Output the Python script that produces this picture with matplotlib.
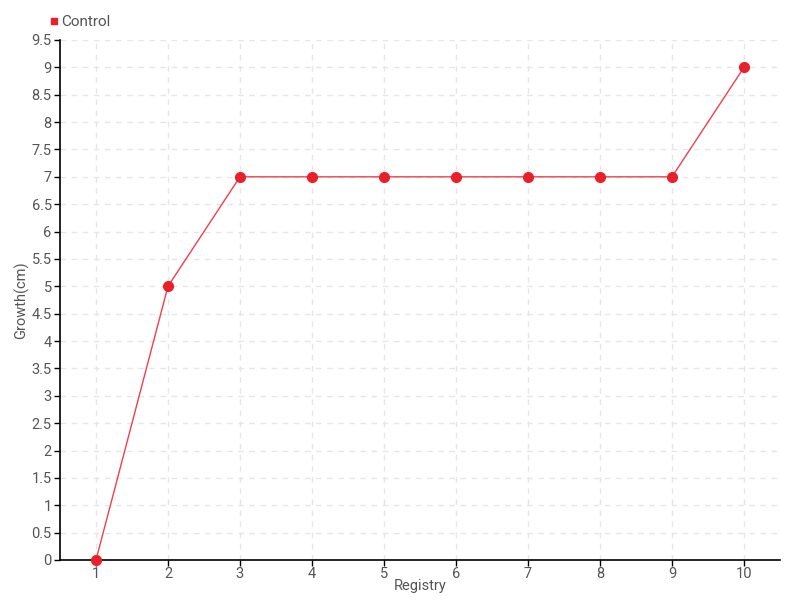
import matplotlib
matplotlib.use("Agg")
import matplotlib.pyplot as plt
from matplotlib.lines import Line2D

registry = [1, 2, 3, 4, 5, 6, 7, 8, 9, 10]
control = [0, 5, 7, 7, 7, 7, 7, 7, 7, 9]
yticks = [0, 0.5, 1, 1.5, 2, 2.5, 3, 3.5, 4, 4.5, 5, 5.5, 6, 6.5, 7, 7.5, 8, 8.5, 9, 9.5]
ytick_labels = ["0", "0.5", "1", "1.5", "2", "2.5", "3", "3.5", "4", "4.5", "5", "5.5",
                "6", "6.5", "7", "7.5", "8", "8.5", "9", "9.5"]

plt.rcParams['font.family'] = ['Roboto', 'DejaVu Sans']
fig = plt.figure(figsize=(8, 6), dpi=100)
ax = fig.add_axes([0.075, 0.0667, 0.9, 0.8667])

red = '#e8202a'
ax.plot(registry, control, color='#f0404a', lw=1, zorder=3)
ax.plot(registry, control, 'o', color=red, ms=7, zorder=4, clip_on=False)

ax.set_xlim(0.5, 10.5)
ax.set_ylim(0, 9.5)
ax.set_xticks(registry)
ax.set_xticklabels([str(r) for r in registry])
ax.set_yticks(yticks)
ax.set_yticklabels(ytick_labels)
ax.tick_params(axis='both', colors='#000000', labelcolor='#555555', labelsize=10.5,
               length=4, width=1, direction='out', pad=2)
ax.tick_params(axis='x', pad=1)
ax.grid(True, color='#e6e6e6', linestyle=(0, (4, 4)), lw=1)
ax.set_axisbelow(True)
for s in ['top', 'right']:
    ax.spines[s].set_visible(False)
for s in ['left', 'bottom']:
    ax.spines[s].set_color('#000000')
    ax.spines[s].set_linewidth(1.2)

ax.set_xlabel('Registry', color='#555555', fontsize=10.5)
ax.set_ylabel('Growth(cm)', color='#555555', fontsize=10.5)
ax.xaxis.set_label_coords(0.5, -0.036)
ax.yaxis.set_label_coords(-0.043, 0.5)

handle = Line2D([], [], marker='s', color=red, linestyle='None', ms=5)
fig.legend([handle], ['Control'], loc='upper left', bbox_to_anchor=(0.052, 0.985),
           frameon=False, fontsize=11, handletextpad=0.1, handlelength=0.8,
           labelcolor='#555555', borderaxespad=0)

fig.savefig('out.png', dpi=100, facecolor='white')
